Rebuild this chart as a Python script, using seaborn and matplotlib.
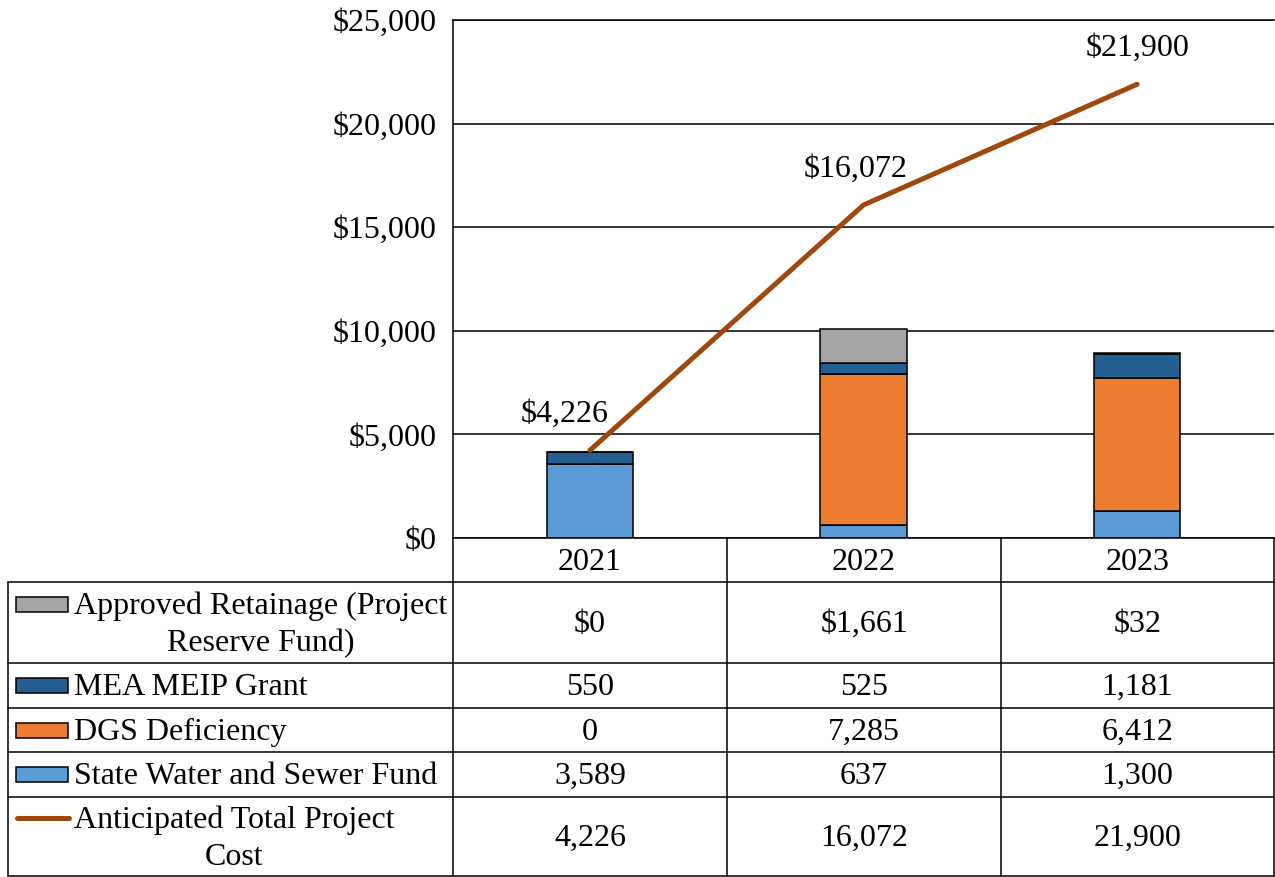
import numpy as np
import pandas as pd
import matplotlib
matplotlib.use("Agg")
import matplotlib.pyplot as plt
import seaborn as sns
from matplotlib.patches import Rectangle
from matplotlib.lines import Line2D

# chart values
years = ["2021", "2022", "2023"]
state_water_sewer = [3589, 637, 1300]
dgs_deficiency = [0, 7285, 6412]
mea_meip_grant = [550, 525, 1181]
approved_retainage = [0, 1661, 32]
total_cost = [4226, 16072, 21900]

# stack order bottom -> top
stack_names = ["State Water and Sewer Fund", "DGS Deficiency", "MEA MEIP Grant",
               "Approved Retainage (Project\nReserve Fund)"]
stack_values = [state_water_sewer, dgs_deficiency, mea_meip_grant, approved_retainage]
stack_colors = ["#5B9BD5", "#ED7D31", "#255E91", "#A5A5A5"]
line_color = "#9E480E"
line_name = "Anticipated Total Project\nCost"

sns.set_theme(style="white")
plt.rcParams["font.family"] = ["Liberation Serif", "DejaVu Serif"]
plt.rcParams["text.color"] = "black"
plt.rcParams["ytick.color"] = "black"
plt.rcParams["xtick.color"] = "black"
FS = 23

W, H = 1275, 877
fig = plt.figure(figsize=(W / 100, H / 100), dpi=100)

# plot area in pixels
left, right, top, bottom = 453, 1274, 20, 538
ax = fig.add_axes([left / W, 1 - bottom / H, (right - left) / W, (bottom - top) / H])

df = pd.DataFrame({"year": years})
base = np.zeros(len(years))
for name, vals, col in zip(stack_names, stack_values, stack_colors):
    df["v"] = vals
    sns.barplot(data=df, x="year", y="v", color=col, saturation=1, width=0.315,
                bottom=base.copy(), edgecolor="black", linewidth=1.1,
                errorbar=None, ax=ax, zorder=2)
    base = base + np.array(vals)

xpos = np.arange(len(years))
sns.lineplot(x=xpos, y=total_cost, color=line_color, linewidth=3.6, ax=ax,
             zorder=3, solid_capstyle="round")

label_dx = [-18, -6, 0]
for i, v in enumerate(total_cost):
    ax.annotate(f"${v:,}", (xpos[i], v), xytext=(label_dx[i], 26),
                textcoords="offset points", ha="center", va="center", fontsize=FS)

ax.set_xlim(-0.5, len(years) - 0.5)
ax.set_ylim(0, 25000)
ax.set_yticks(np.arange(0, 25001, 5000))
ax.yaxis.set_major_formatter(matplotlib.ticker.FuncFormatter(lambda y, _: f"${y:,.0f}"))
ax.tick_params(axis="y", length=0, pad=12, labelsize=FS, colors="black")
ax.set_xticks([])
ax.set_xlabel("")
ax.set_ylabel("")
ax.yaxis.grid(True, color="black", linewidth=1.1)
ax.set_axisbelow(True)
for s in ["left", "bottom", "top"]:
    ax.spines[s].set_visible(True)
    ax.spines[s].set_color("black")
    ax.spines[s].set_linewidth(1.1)
ax.spines["right"].set_visible(False)

# data table drawn in pixel coordinates
tab = fig.add_axes([0, 0, 1, 1], zorder=5)
tab.set_xlim(0, W)
tab.set_ylim(H, 0)
tab.axis("off")

col_edges = [8, 453, 727, 1001, 1274]
head_top, head_bot = 538, 582
row_edges = [582, 663, 708, 752, 797, 876]
lw_t = 1.1

# header row with years
for x in col_edges[1:]:
    tab.add_line(Line2D([x, x], [head_top, head_bot], color="black", lw=lw_t))
for j, y in enumerate(years):
    cx = (col_edges[j + 1] + col_edges[j + 2]) / 2
    tab.text(cx, (head_top + head_bot) / 2 + 2, y, ha="center", va="center", fontsize=FS)

# table grid
for y in row_edges:
    tab.add_line(Line2D([col_edges[0], col_edges[-1]], [y, y], color="black", lw=lw_t))
for x in col_edges:
    tab.add_line(Line2D([x, x], [row_edges[0], row_edges[-1]], color="black", lw=lw_t))

rows = [
    (stack_names[3], stack_colors[3], [f"${v:,}" for v in approved_retainage]),
    (stack_names[2], stack_colors[2], [f"{v:,}" for v in mea_meip_grant]),
    (stack_names[1], stack_colors[1], [f"{v:,}" for v in dgs_deficiency]),
    (stack_names[0], stack_colors[0], [f"{v:,}" for v in state_water_sewer]),
    (line_name, None, [f"{v:,}" for v in total_cost]),
]

for r, (name, col, cells) in enumerate(rows):
    y0, y1 = row_edges[r], row_edges[r + 1]
    cy = (y0 + y1) / 2
    nlines = name.count("\n") + 1
    key_y = cy - (nlines - 1) * 18.5
    if col is not None:
        tab.add_patch(Rectangle((16, key_y - 7.5), 52, 15, facecolor=col,
                                edgecolor="black", lw=1.1))
    else:
        tab.add_line(Line2D([17, 69], [key_y, key_y], color=line_color, lw=3.6,
                            solid_capstyle="round"))
    tab.text(74, cy + 2, name, ha="left", va="center", multialignment="center",
             fontsize=FS, linespacing=1.35)
    for j, c in enumerate(cells):
        cx = (col_edges[j + 1] + col_edges[j + 2]) / 2
        tab.text(cx, cy + 2, c, ha="center", va="center", fontsize=FS)

fig.savefig("out.png", dpi=100)
